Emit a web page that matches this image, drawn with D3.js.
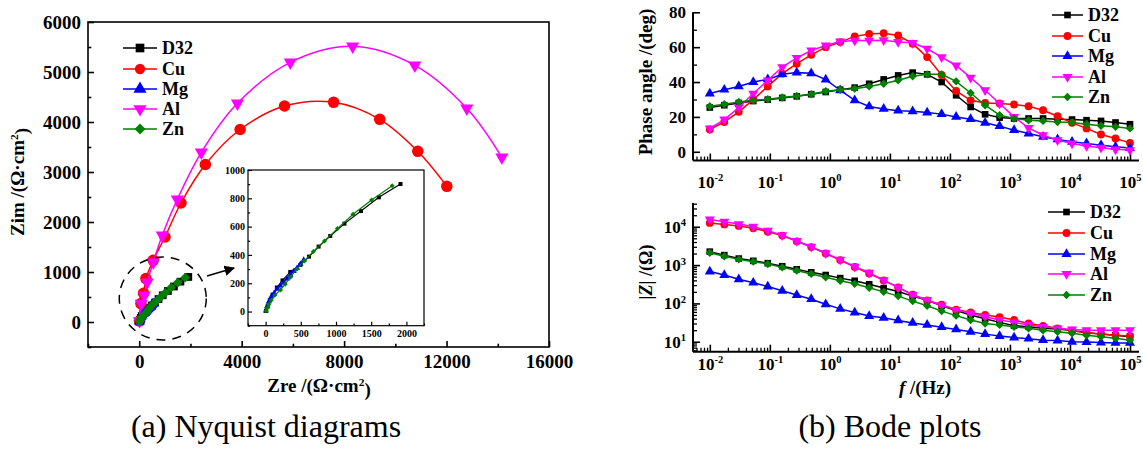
<!DOCTYPE html>
<html>
<head>
<meta charset="utf-8">
<script src="https://cdn.jsdelivr.net/npm/d3@7"></script>
<style>
  body { margin: 0; background: #fff; }
  svg { font-family: "Liberation Serif", serif; }
</style>
</head>
<body>
<svg id="fig" width="1143" height="450"></svg>
<script>
//======
// data
//======

var names = ["D32", "Cu", "Mg", "Al", "Zn"];
var colors = ["#000000", "#ff0000", "#0000ff", "#ff00ff", "#008000"];

// Nyquist, [Zre, Zim] in ohm*cm2
var nyqD32 = [[5,5],[30,40],[60,80],[100,120],[160,170],[240,220],[350,280],[494,330],[617,388],[753,459],[918,534],[1120,621],[1355,710],[1609,807],[1916,901]];
var nyqCu = [[10,20],[66,368],[168,574],[262,868],[548,1234],[1005,1700],[1630,2380],[2582,3150],[3940,3850],[5673,4320],[7590,4394],[9390,4054],[10876,3414],[12010,2714]];
var nyqMg = [[5,5],[20,35],[45,70],[80,105],[120,130],[165,160],[210,182],[259,205],[305,232],[353,259],[400,284],[447,308],[495,336],[541,365]];
var nyqAl = [[10,20],[78,368],[196,534],[313,794],[548,1194],[900,1734],[1487,2454],[2426,3394],[3834,4374],[5900,5194],[8333,5514],[10760,5134],[12790,4274],[14160,3294]];
var nyqZn = [[9,5],[25,25],[45,50],[80,80],[130,115],[212,153],[278,193],[353,243],[442,299],[551,358],[678,424],[837,499],[1021,586],[1242,687],[1506,788],[1798,889]];

// Bode, frequency in Hz
var freq = [0.01, 0.01744, 0.03039, 0.05298, 0.09236, 0.1610, 0.2807, 0.4894, 0.8532, 1.487, 2.593, 4.520, 7.881, 13.74, 23.95, 41.76, 72.80, 126.9, 221.3, 385.8, 672.5, 1172, 2044, 3563, 6212, 10830, 18880, 32910, 57380, 100000];

// phase angle, deg
var phD32 = [25.4, 26.7, 28, 29.1, 29.9, 30.9, 31.8, 33, 34.3, 35.6, 36.8, 39, 41.5, 43.8, 45.4, 44.4, 40, 32.4, 25.7, 21.5, 19.6, 19.1, 19.1, 19.1, 18.7, 18.5, 18.1, 17.7, 16.8, 15.8];
var phCu = [12.8, 17.1, 22.9, 29.9, 37.5, 44.8, 50.5, 55.6, 60, 62.9, 66.2, 67.6, 68, 66.7, 62, 54.3, 44.1, 34.9, 29.5, 28, 27.7, 27.1, 26.1, 23.8, 20.4, 16.6, 13.4, 9.9, 7.6, 5.1];
var phMg = [33.4, 35.6, 37.5, 40, 41.5, 44.5, 45.4, 45, 41.4, 35.3, 29.5, 26, 24.6, 23.6, 23.2, 22.5, 21.6, 20, 18.7, 16.6, 14.7, 12.4, 10.5, 8.6, 7.1, 5.7, 4.8, 3.8, 2.9, 2.1];
var phAl = [13.4, 18.5, 25.4, 33.4, 41, 48.6, 53.9, 58.1, 61, 63.3, 63.8, 63.8, 64, 63, 62.5, 59.1, 54.3, 49.5, 42.5, 35.3, 27.7, 20, 13.7, 9.5, 6.7, 4.8, 3.3, 2.3, 1.4, 1.0];
var phZn = [26.1, 27.3, 28.6, 29.5, 30.1, 31.1, 32, 33, 34.7, 35.6, 36.2, 37.5, 39, 41, 43.3, 44.4, 44.4, 40.4, 33.7, 26.7, 21, 19.1, 18.1, 17.7, 17.1, 16.8, 15.8, 14.9, 14.3, 13.4];

// |Z|, ohm
var zD32 = [2240, 1820, 1480, 1290, 1120, 933, 776, 646, 550, 457, 389, 316, 251, 204, 155, 120, 87, 65, 50, 40, 32, 26.3, 24.5, 22.4, 21.4, 19.5, 17.4, 15.8, 14.8, 13.5];
var zCu = [12600, 11500, 10500, 9120, 7410, 5890, 4170, 2950, 2000, 1350, 891, 603, 398, 263, 170, 120, 93, 69, 58, 50, 44, 37, 30, 26, 22.4, 19.5, 17, 15.8, 14.8, 14.1];
var zMg = [676, 550, 427, 347, 275, 214, 166, 129, 95, 72, 58, 47, 42, 36, 31, 27.5, 24, 21, 18.2, 15.8, 14.1, 12.9, 12, 11, 10.7, 10, 9.8, 9.5, 9.3, 9.3];
var zAl = [15500, 13500, 11750, 10000, 7940, 6030, 4270, 3020, 2040, 1380, 912, 631, 407, 263, 166, 123, 89, 68, 55, 45, 37, 32, 27.5, 24.5, 22.4, 20.9, 20, 20, 20, 20];
var zZn = [2090, 1700, 1410, 1230, 1070, 871, 724, 589, 479, 389, 324, 257, 200, 155, 115, 87, 63, 48, 37, 30, 27.5, 24.5, 22.4, 20, 18.2, 16.6, 14.8, 13.5, 12.3, 11];

var nyqTicksX = [0, 4000, 8000, 12000, 16000];
var nyqTicksY = [0, 1000, 2000, 3000, 4000, 5000, 6000];
var insetTicksX = [0, 500, 1000, 1500, 2000];
var insetTicksY = [0, 200, 400, 600, 800, 1000];
var decades = [-2, -1, 0, 1, 2, 3, 4, 5];
var zDecades = [1, 2, 3, 4];
var phaseTicks = [0, 20, 40, 60, 80];

//=========
// helpers
//=========

var FONT = "Liberation Serif";
var svg = d3.select("#fig");

var symTypes = [d3.symbolSquare, d3.symbolCircle, d3.symbolTriangle, d3.symbolTriangle, d3.symbolSquare];
var symRot = [0, 0, 0, 180, 45];
var symScale = [1, 1.1, 1, 1, 0.8];

function marks(g, pts, x, y, i, size) {
  var path = d3.symbol().type(symTypes[i]).size(size * symScale[i]);
  g.append("g").selectAll("path").data(pts).join("path")
    .attr("d", path)
    .attr("transform", function (d) {
      return "translate(" + x(d[0]) + "," + y(d[1]) + ") rotate(" + symRot[i] + ")";
    })
    .attr("fill", colors[i]);
}

function series(g, pts, x, y, i, size, curve, lw) {
  var line = d3.line().x(function (d) { return x(d[0]); }).y(function (d) { return y(d[1]); });
  if (curve) line.curve(curve);
  g.append("path").datum(pts).attr("d", line)
    .attr("fill", "none").attr("stroke", colors[i]).attr("stroke-width", lw || 1.5);
  marks(g, pts, x, y, i, size);
}

function styleAxis(a, fs, sw) {
  a.select(".domain").remove();
  a.selectAll("text").attr("font-family", FONT).attr("font-size", fs).attr("font-weight", "bold").attr("fill", "#000");
  a.selectAll("line").attr("stroke", "#000").attr("stroke-width", sw);
}

function minorsBetween(lo, hi, step, skip) {
  var out = [];
  for (var v = Math.ceil(lo / step) * step; v <= hi; v += step) {
    if (Math.abs(v % skip) > 1e-9) out.push(v);
  }
  return out;
}

function logMinors(dom) {
  var out = [];
  var e0 = Math.floor(Math.log10(dom[0])), e1 = Math.ceil(Math.log10(dom[1]));
  for (var e = e0; e <= e1; e++) {
    for (var m = 2; m <= 9; m++) {
      var v = m * Math.pow(10, e);
      if (v >= dom[0] && v <= dom[1]) out.push(v);
    }
  }
  return out;
}

function powText(sel) {
  sel.each(function (d) {
    var t = d3.select(this);
    var e = Math.round(Math.log10(d));
    t.text(null);
    t.append("tspan").text("10");
    t.append("tspan").attr("dy", "-0.6em").attr("font-size", "0.62em").text(e);
  });
}

// boxed linear frame with inward ticks
function boxAxes(g, x, y, o) {
  var x0 = x.range()[0], x1 = x.range()[1], y0 = y.range()[0], y1 = y.range()[1];
  g.append("rect").attr("x", x0).attr("y", y1).attr("width", x1 - x0).attr("height", y0 - y1)
    .attr("fill", o.fill || "none").attr("stroke", "#000").attr("stroke-width", o.sw);

  var xa = g.append("g").attr("transform", "translate(0," + y0 + ")")
    .call(d3.axisBottom(x).tickValues(o.xMaj).tickSize(-o.tk).tickPadding(o.xpad).tickFormat(d3.format("d")));
  styleAxis(xa, o.fs, o.sw);
  var xm = g.append("g").attr("transform", "translate(0," + y0 + ")")
    .call(d3.axisBottom(x).tickValues(o.xMin).tickSize(-o.tk * 0.55).tickFormat(""));
  styleAxis(xm, o.fs, o.sw);

  var ya = g.append("g").attr("transform", "translate(" + x0 + ",0)")
    .call(d3.axisLeft(y).tickValues(o.yMaj).tickSize(-o.tk).tickPadding(o.ypad).tickFormat(d3.format("d")));
  styleAxis(ya, o.fs, o.sw);
  var ym = g.append("g").attr("transform", "translate(" + x0 + ",0)")
    .call(d3.axisLeft(y).tickValues(o.yMin).tickSize(-o.tk * 0.55).tickFormat(""));
  styleAxis(ym, o.fs, o.sw);
}

// left + bottom only, log x
function bodeAxes(g, x, y, o) {
  var x0 = x.range()[0], x1 = x.range()[1], y0 = y.range()[0], y1 = y.range()[1];
  g.append("line").attr("x1", x0).attr("x2", x1).attr("y1", y0).attr("y2", y0)
    .attr("stroke", "#000").attr("stroke-width", 2);
  g.append("line").attr("x1", x0).attr("x2", x0).attr("y1", y0).attr("y2", y1)
    .attr("stroke", "#000").attr("stroke-width", 2);

  var xa = g.append("g").attr("transform", "translate(0," + y0 + ")")
    .call(d3.axisBottom(x).tickValues(decades.map(function (e) { return Math.pow(10, e); }))
      .tickSize(-7).tickPadding(o.xpad));
  styleAxis(xa, 17, 1.6);
  xa.selectAll("text").call(powText);
  var xm = g.append("g").attr("transform", "translate(0," + y0 + ")")
    .call(d3.axisBottom(x).tickValues(logMinors(x.domain())).tickSize(-4).tickFormat(""));
  styleAxis(xm, 17, 1.3);

  var ya = g.append("g").attr("transform", "translate(" + x0 + ",0)")
    .call(d3.axisLeft(y).tickValues(o.yMaj).tickSize(-7).tickPadding(7));
  styleAxis(ya, 17, 1.6);
  if (o.logY) ya.selectAll("text").call(powText);
  var ym = g.append("g").attr("transform", "translate(" + x0 + ",0)")
    .call(d3.axisLeft(y).tickValues(o.yMin).tickSize(-4).tickFormat(""));
  styleAxis(ym, 17, 1.3);
}

function legend(g, xl0, xl1, xt, ys, size, fs) {
  names.forEach(function (n, i) {
    g.append("line").attr("x1", xl0).attr("x2", xl1).attr("y1", ys[i]).attr("y2", ys[i])
      .attr("stroke", colors[i]).attr("stroke-width", 1.5);
    marks(g, [[0, 0]], function () { return (xl0 + xl1) / 2; }, function () { return ys[i]; }, i, size);
    g.append("text").attr("x", xt).attr("y", ys[i]).attr("dy", "0.35em")
      .attr("font-family", FONT).attr("font-size", fs).attr("font-weight", "bold").text(n);
  });
}

function label(g, x, y, rot, fs, parts) {
  var t = g.append("text").attr("transform", "translate(" + x + "," + y + ") rotate(" + rot + ")")
    .attr("text-anchor", "middle").attr("font-family", FONT).attr("font-size", fs).attr("font-weight", "bold");
  parts.forEach(function (p) {
    var s = t.append("tspan").text(p.t);
    if (p.sup) s.attr("dy", "-0.55em").attr("font-size", "0.6em");
    if (p.down) s.attr("dy", "0.55em");
    if (p.it) s.attr("font-style", "italic");
  });
  return t;
}

//==========
// Nyquist
//==========

var nx = d3.scaleLinear().domain([-2000, 16000]).range([88, 549]);
var ny = d3.scaleLinear().domain([-500, 6000]).range([347, 22]);
var nyq = svg.append("g");

boxAxes(nyq, nx, ny, {
  xMaj: nyqTicksX, xMin: minorsBetween(-2000, 16000, 2000, 4000),
  yMaj: nyqTicksY, yMin: minorsBetween(-500, 6000, 500, 1000),
  tk: 6, sw: 1.6, fs: 19, xpad: 8, ypad: 7
});

var nyqData = [nyqD32, nyqCu, nyqMg, nyqAl, nyqZn];
var nyqSize = [60, 95, 50, 75, 60];
nyqData.forEach(function (pts, i) {
  series(nyq, pts, nx, ny, i, nyqSize[i], (i === 1 || i === 3) ? d3.curveCatmullRom.alpha(0.5) : null, 1.5);
});

legend(nyq, 123, 157, 162, [48, 69, 89, 109, 129], 75, 18);

// dashed circle + arrow to the inset
nyq.append("ellipse").attr("cx", nx(920)).attr("cy", ny(470)).attr("rx", 43.5).attr("ry", 41.5)
  .attr("fill", "none").attr("stroke", "#000").attr("stroke-width", 1.5).attr("stroke-dasharray", "9,7");

svg.append("defs").append("marker").attr("id", "arr").attr("viewBox", "0 0 10 10")
  .attr("refX", 9).attr("refY", 5).attr("markerWidth", 7).attr("markerHeight", 7).attr("orient", "auto")
  .append("path").attr("d", "M0,0 L10,5 L0,10 z").attr("fill", "#000");
nyq.append("line").attr("x1", 207).attr("y1", 276).attr("x2", 234).attr("y2", 268)
  .attr("stroke", "#000").attr("stroke-width", 1.5).attr("marker-end", "url(#arr)");

// inset
var ix = d3.scaleLinear().domain([-250, 2250]).range([248, 424]);
var iy = d3.scaleLinear().domain([-100, 1000]).range([325.7, 170]);
var ins = svg.append("g");
boxAxes(ins, ix, iy, {
  fill: "#fff",
  xMaj: insetTicksX, xMin: minorsBetween(-250, 2250, 250, 500),
  yMaj: insetTicksY, yMin: minorsBetween(-100, 1000, 100, 200),
  tk: 4, sw: 1.2, fs: 10, xpad: 4, ypad: 3
});
[0, 2, 4].forEach(function (i) {
  series(ins, nyqData[i], ix, iy, i, 16, null, 1.2);
});

label(nyq, 24, 182, -90, 19, [{t: "Zim /(Ω·cm"}, {t: "2", sup: true}, {t: ")", down: true}]);
label(nyq, 319, 392, 0, 19, [{t: "Zre /(Ω·cm"}, {t: "2", sup: true}, {t: ")", down: true}]);

//======
// Bode
//======

var bx = d3.scaleLog().domain([Math.pow(10, -2.28), Math.pow(10, 5.15)]).range([693, 1139]);

// phase
var py = d3.scaleLinear().domain([-5, 80]).range([160.5, 12.3]);
var ph = svg.append("g");
bodeAxes(ph, bx, py, { yMaj: phaseTicks, yMin: [10, 30, 50, 70], xpad: 15 });

var phData = [phD32, phCu, phMg, phAl, phZn];
phData.forEach(function (vals, i) {
  var pts = freq.map(function (f, k) { return [f, vals[k]]; });
  series(ph, pts, bx, py, i, 44, null, 1.5);
});
legend(ph, 1052, 1083, 1088, [15, 36, 56, 77, 97], 44, 18);
label(ph, 652, 82, -90, 19, [{t: "Phase angle /(deg)"}]);

// |Z|
var zy = d3.scaleLog().domain([Math.pow(10, 0.74), Math.pow(10, 4.62)]).range([351.7, 203]);
var zg = svg.append("g");
bodeAxes(zg, bx, zy, {
  yMaj: zDecades.map(function (e) { return Math.pow(10, e); }),
  yMin: logMinors(zy.domain()), logY: true, xpad: 6
});

var zData = [zD32, zCu, zMg, zAl, zZn];
zData.forEach(function (vals, i) {
  var pts = freq.map(function (f, k) { return [f, vals[k]]; });
  series(zg, pts, bx, zy, i, 44, null, 1.5);
});
legend(zg, 1048, 1085, 1090, [212, 233, 254, 274, 295], 44, 18);
label(zg, 652, 272, -90, 18, [{t: "|"}, {t: "Z", it: true}, {t: "| /(Ω)"}]);
label(zg, 925, 394, 0, 19, [{t: "f", it: true}, {t: " /(Hz)"}]);

//==========
// captions
//==========

svg.append("text").attr("x", 266).attr("y", 437).attr("text-anchor", "middle")
  .attr("font-family", FONT).attr("font-size", 32).text("(a) Nyquist diagrams");
svg.append("text").attr("x", 890).attr("y", 437).attr("text-anchor", "middle")
  .attr("font-family", FONT).attr("font-size", 32).text("(b) Bode plots");
</script>
</body>
</html>
